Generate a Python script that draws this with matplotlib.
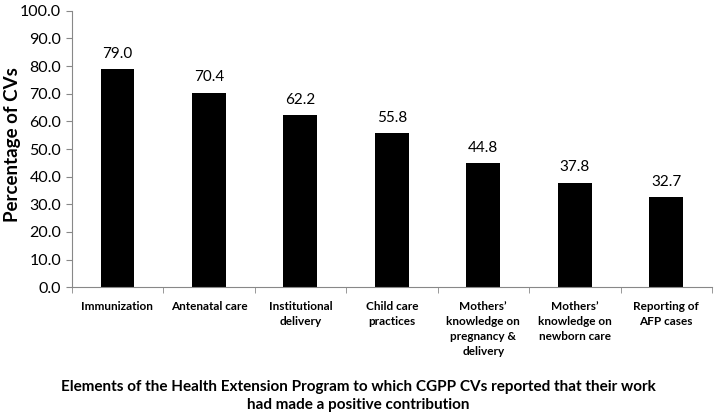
import numpy as np
import matplotlib
matplotlib.use("Agg")
import matplotlib.pyplot as plt

plt.rcParams['font.family'] = ['Lato', 'DejaVu Sans']

categories = ["Immunization", "Antenatal care", "Institutional\ndelivery",
              "Child care\npractices", "Mothers'\nknowledge on\npregnancy &\ndelivery",
              "Mothers'\nknowledge on\nnewborn care", "Reporting of\nAFP cases"]
categories = [c.replace("'", "\u2019") for c in categories]
percent = [79.0, 70.4, 62.2, 55.8, 44.8, 37.8, 32.7]

fig = plt.figure(figsize=(7.17, 4.18), dpi=100)
ax = fig.add_axes([0.100, 0.313, 0.893, 0.661])

x = np.arange(len(categories))
ax.bar(x, percent, width=0.37, color="black")

# value labels above bars
for xi, v in zip(x, percent):
    ax.text(xi, v + 3, f"{v:.1f}", ha="center", va="bottom", fontsize=11)

ax.set_xlim(-0.5, len(categories) - 0.5)
ax.set_ylim(0, 100)
ax.set_yticks(np.arange(0, 101, 10))
ax.set_yticklabels([f"{t:.1f}" for t in np.arange(0, 101, 10)], fontsize=11.5)

ax.set_xticks(x)
ax.set_xticklabels(categories, fontsize=8.5, fontweight="bold", va="top", linespacing=1.45)
ax.tick_params(axis="x", length=0, pad=10)
ax.set_xticks(np.arange(-0.5, len(categories), 1), minor=True)
ax.tick_params(axis="x", which="minor", length=4, color="#888888")
ax.tick_params(axis="y", length=4, color="#888888")

for side in ["top", "right"]:
    ax.spines[side].set_visible(False)
ax.spines["left"].set_color("#888888")
ax.spines["bottom"].set_color("#888888")

# y label placed by hand so it stays inside the figure
fig.text(13 / 717, 0.655, "Percentage of CVs", rotation=90, ha="center", va="center",
         fontsize=13.5, fontweight="bold")
fig.text(0.5, 0.053, "Elements of the Health Extension Program to which CGPP CVs reported that their work\nhad made a positive contribution",
         ha="center", va="center", fontsize=11, fontweight="bold", linespacing=1.4)

fig.savefig("out.png", dpi=100)
